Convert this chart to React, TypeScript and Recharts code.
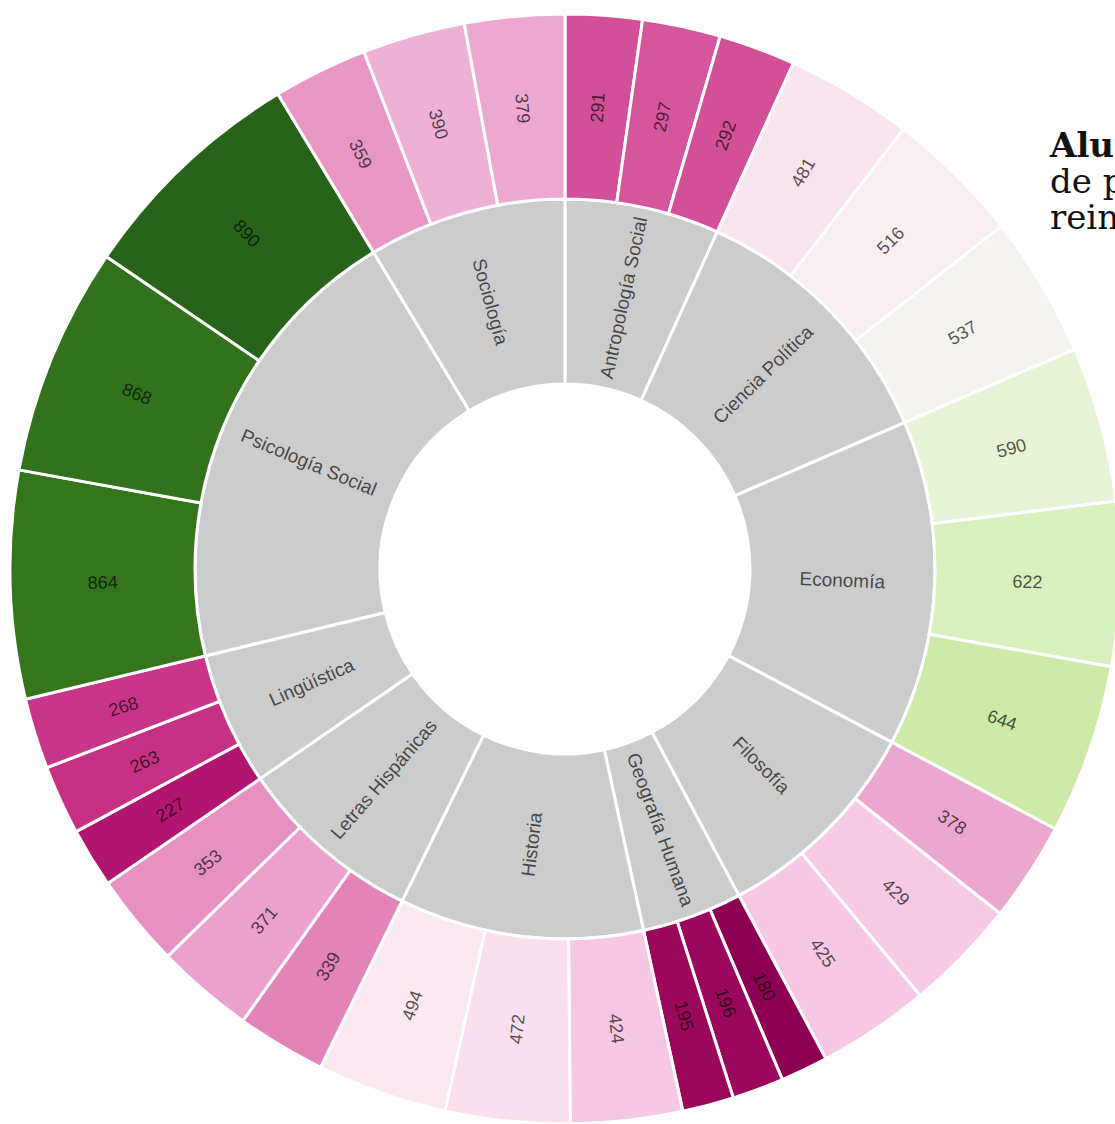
import { PieChart, Pie, Cell } from 'recharts'

// disciplinas en orden alfabético, en el sentido del reloj desde arriba
const disciplinas = [
  'Antropología Social',
  'Ciencia Política',
  'Economía',
  'Filosofía',
  'Geografía Humana',
  'Historia',
  'Letras Hispánicas',
  'Lingüística',
  'Psicología Social',
  'Sociología',
]

const antropologia = [291, 297, 292]
const cienciaPolitica = [481, 516, 537]
const economia = [590, 622, 644]
const filosofia = [378, 429, 425]
const geografia = [180, 196, 195]
const historia = [424, 472, 494]
const letras = [339, 371, 353]
const linguistica = [227, 263, 268]
const psicologia = [864, 868, 890]
const sociologia = [359, 390, 379]

const alumnos = [antropologia, cienciaPolitica, economia, filosofia, geografia, historia, letras, linguistica, psicologia, sociologia]

const innerData = disciplinas.map((name, i) => ({ name, value: alumnos[i].reduce((a, b) => a + b, 0) }))
const outerData = alumnos.flatMap((vals, i) => vals.map((v, j) => ({ name: `${disciplinas[i]}-${j}`, value: v })))

// PiYG (d3 interpolatePiYG: basis spline sobre el esquema de 11 colores)
const PIYG = ['8e0152', 'c51b7d', 'de77ae', 'f1b6da', 'fde0ef', 'f7f7f7', 'e6f5d0', 'b8e186', '7fbc41', '4d9221', '276419']
const rgbs = PIYG.map(h => [0, 2, 4].map(k => parseInt(h.slice(k, k + 2), 16)))

function basis(t1: number, v0: number, v1: number, v2: number, v3: number) {
  const t2 = t1 * t1, t3 = t2 * t1
  return ((1 - 3 * t1 + 3 * t2 - t3) * v0 + (4 - 6 * t2 + 3 * t3) * v1 + (1 + 3 * t1 + 3 * t2 - 3 * t3) * v2 + t3 * v3) / 6
}

function interpolatePiYG(t: number) {
  const n = rgbs.length - 1
  const out = [0, 1, 2].map(c => {
    const values = rgbs.map(r => r[c])
    let i: number
    if (t <= 0) { t = 0; i = 0 } else if (t >= 1) { t = 1; i = n - 1 } else i = Math.floor(t * n)
    const v1 = values[i], v2 = values[i + 1]
    const v0 = i > 0 ? values[i - 1] : 2 * v1 - v2
    const v3 = i < n - 1 ? values[i + 2] : 2 * v2 - v1
    return Math.max(0, Math.min(255, Math.round(basis((t - i / n) * n, v0, v1, v2, v3))))
  })
  return `rgb(${out[0]},${out[1]},${out[2]})`
}

const allVals = outerData.map(d => d.value)
const vMin = Math.min(...allVals)
const vMax = Math.max(...allVals)
const colorFor = (v: number) => interpolatePiYG((v - vMin) / (vMax - vMin))

const CX = 565
const CY = 569

function makeLabel(fontSize: number, showValue: boolean) {
  return (props: any) => {
    const { cx, cy, midAngle, innerRadius, outerRadius, name, value, index } = props
    const a = 90 - midAngle
    const r = (innerRadius + outerRadius) / 2
    const text = showValue ? value : name
    return (
      <text
        key={index}
        transform={`translate(${cx},${cy}) rotate(${a - 90}) translate(${r},0) rotate(${a < 180 ? 0 : 180})`}
        textAnchor="middle"
        dy="0.35em"
        fill="#000"
        fillOpacity={0.68}
        fontSize={fontSize}
        fontFamily="'Liberation Sans', Arial, sans-serif"
      >
        {text}
      </text>
    )
  }
}

export default function App() {
  return (
    <div style={{ position: 'fixed', left: 0, top: 0, width: 1115, height: 1124, overflow: 'hidden', background: '#fff' }}>
      <PieChart width={1115} height={1124} margin={{ top: 0, right: 0, bottom: 0, left: 0 }}>
        <Pie
          data={innerData}
          dataKey="value"
          nameKey="name"
          cx={CX}
          cy={CY}
          innerRadius={185}
          outerRadius={370}
          startAngle={90}
          endAngle={-270}
          stroke="#fff"
          strokeWidth={3}
          label={makeLabel(19, false)}
          labelLine={false}
          isAnimationActive={false}
        >
          {innerData.map((_, i) => (
            <Cell key={i} fill="#cccccc" />
          ))}
        </Pie>
        <Pie
          data={outerData}
          dataKey="value"
          nameKey="name"
          cx={CX}
          cy={CY}
          innerRadius={370}
          outerRadius={555}
          startAngle={90}
          endAngle={-270}
          stroke="#fff"
          strokeWidth={3}
          label={makeLabel(18, true)}
          labelLine={false}
          isAnimationActive={false}
        >
          {outerData.map((d, i) => (
            <Cell key={i} fill={colorFor(d.value)} />
          ))}
        </Pie>
      </PieChart>
      <div
        style={{
          position: 'absolute',
          left: 1050,
          top: 127,
          width: 400,
          fontFamily: "'DejaVu Serif', serif",
          fontSize: 34,
          lineHeight: '36px',
          color: '#111',
          whiteSpace: 'nowrap',
        }}
      >
        <div style={{ fontWeight: 'bold' }}>Alumnos inscritos</div>
        <div>de posgrado</div>
        <div>reinscritos</div>
      </div>
    </div>
  )
}
